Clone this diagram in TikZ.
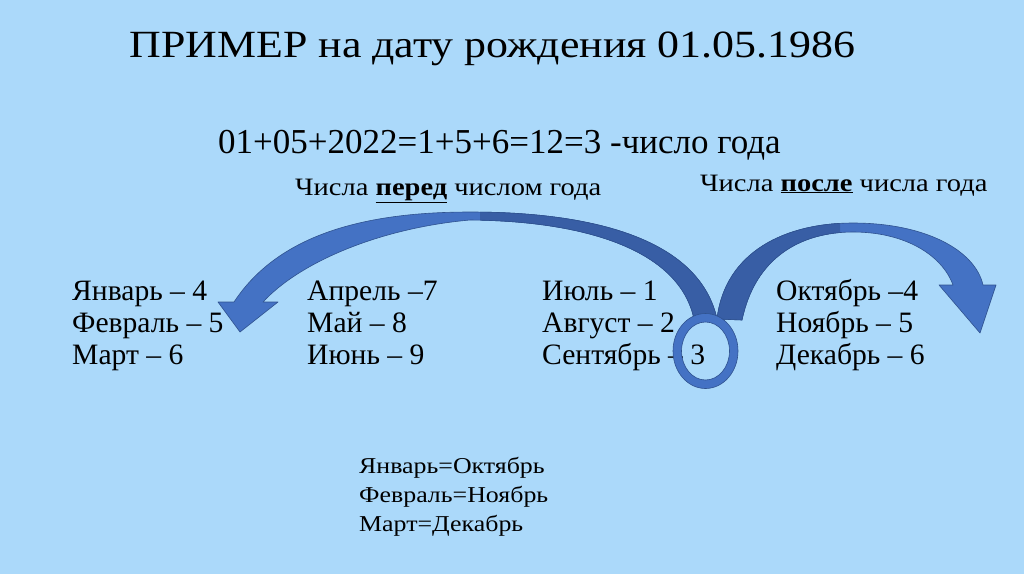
\documentclass[tikz,border=0pt]{standalone}
\usepackage{fontspec}
\setmainfont{Liberation Serif}
\newfontfamily\widefont[FakeStretch=1.14]{Liberation Serif}
\definecolor{bgblue}{RGB}{171,217,250}
\definecolor{arrblue}{RGB}{68,114,196}
\definecolor{arrdark}{RGB}{56,94,165}
\definecolor{edgeblue}{RGB}{47,82,143}

\begin{document}
\begin{tikzpicture}[x=1pt, y=-1pt,
        txt/.style={anchor=base west, inner sep=0pt, font=\fontsize{29.6}{34}\selectfont},
        small/.style={anchor=base west, inner sep=0pt, font=\widefont\fontsize{22.7}{26}\selectfont},
        hdr/.style={anchor=base west, inner sep=0pt, font=\widefont\fontsize{25}{30}\selectfont},
        band/.style={fill=arrblue, draw=edgeblue, line width=0.6pt, line join=round}
    ]
    \fill[bgblue] (0,0) rectangle (1024,574);
    \useasboundingbox (0,0) rectangle (1024,574);

    % headings
    \node[anchor=base, inner sep=0pt, font=\widefont\fontsize{38.5}{44}\selectfont] (title) at (492.5,57) {ПРИМЕР на дату рождения 01.05.1986};
    \node[anchor=base west, inner sep=0pt, font=\fontsize{35}{40}\selectfont] (sum) at (218,153) {01+05+2022=1+5+6=12=3 -число года};
    \node[hdr] (before) at (295,195) {Числа \underline{\textbf{перед}} числом года};
    \node[hdr] (after) at (700,191) {Числа \underline{\textbf{после}} числа года};

    % left arrow (back to the start of the year)
    \path[band] (717,319) .. controls (700,242) and (600,212) .. (470,212)
        .. controls (370,212) and (280,232) .. (234,302)
        -- (218,302) -- (240,332) -- (278,302) -- (263,302)
        .. controls (300,262) and (380,228) .. (470,220)
        .. controls (590,221) and (680,252) .. (694,319) -- cycle;
    \begin{scope}
        \clip (480,150) rectangle (760,340);
        \path[band, fill=arrdark] (717,319) .. controls (700,242) and (600,212) .. (470,212)
            -- (470,220) .. controls (590,221) and (680,252) .. (694,319) -- cycle;
    \end{scope}

    % right arrow (on to the end of the year)
    \path[band] (717,319) .. controls (725,252) and (785,223) .. (853,223)
        .. controls (925,223) and (975,250) .. (983,285)
        -- (996,285) -- (980,333) -- (939,285) -- (953,285)
        .. controls (942,255) and (905,232) .. (853,232)
        .. controls (800,232) and (755,258) .. (742,320) -- cycle;
    \begin{scope}
        \clip (700,150) rectangle (840,340);
        \path[band, fill=arrdark] (717,319) .. controls (725,252) and (785,223) .. (853,223)
            -- (853,232) .. controls (800,232) and (755,258) .. (742,320) -- cycle;
    \end{scope}

    % months
    \node[txt] (jan) at (72,300) {Январь – 4};
    \node[txt] (feb) at (72,332) {Февраль – 5};
    \node[txt] (mar) at (72,364) {Март – 6};
    \node[txt] (apr) at (307,300) {Апрель –7};
    \node[txt] (may) at (307,332) {Май – 8};
    \node[txt] (jun) at (307,364) {Июнь – 9};
    \node[txt] (jul) at (542,300) {Июль – 1};
    \node[txt] (aug) at (542,332) {Август – 2};
    \node[txt] (sep) at (542,364) {Сентябрь – 3};
    \node[txt] (oct) at (776,300) {Октябрь –4};
    \node[txt] (nov) at (776,332) {Ноябрь – 5};
    \node[txt] (dec) at (776,364) {Декабрь – 6};

    % ring round the year number
    \path[band, even odd rule] (705.5,351) ellipse [x radius=32.5pt, y radius=37.5pt]
        (705.5,351) ellipse [x radius=24pt, y radius=29pt];

    % pairs
    \node[small] (eq1) at (359,473) {Январь=Октябрь};
    \node[small] (eq2) at (359,502) {Февраль=Ноябрь};
    \node[small] (eq3) at (359,531) {Март=Декабрь};
\end{tikzpicture}
\end{document}
